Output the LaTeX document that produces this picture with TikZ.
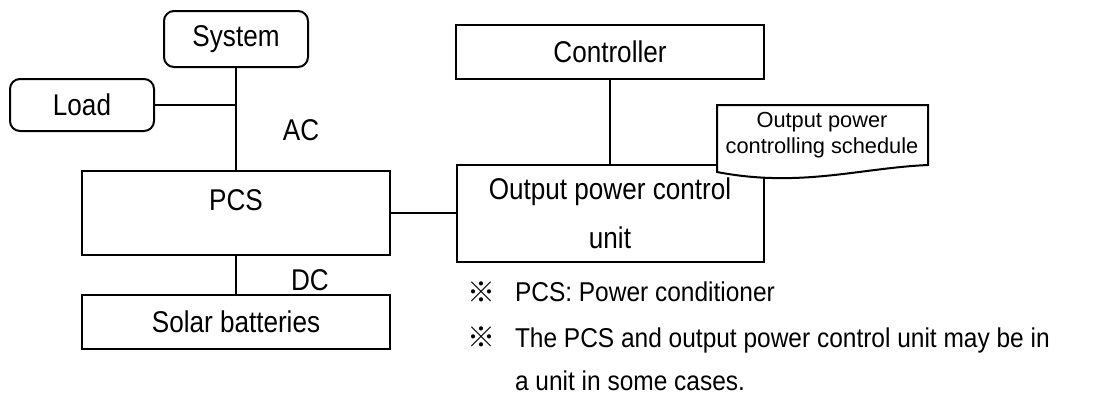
\documentclass[tikz,border=0pt]{standalone}
\usepackage{fontspec}
\setmainfont[FakeStretch=0.87]{Liberation Sans}
\newfontfamily\plainsans{Liberation Sans}
\newfontfamily\notesans[FakeStretch=0.9]{Liberation Sans}
\newfontfamily\cjk{Noto Sans CJK JP}
\tikzset{
  box/.style={draw, line width=1pt, inner sep=0pt, font=\fontsize{15}{18}\selectfont},
  rbox/.style={box, rounded corners=5pt},
  txt/.style={inner sep=0pt, font=\fontsize{15}{18}\selectfont},
  note/.style={inner sep=0pt, anchor=west, align=left, font=\notesans\fontsize{13.6}{21.5}\selectfont},
  refmark/.style={inner sep=0pt, font=\cjk\fontsize{14}{16}\selectfont},
}
\begin{document}
\begin{tikzpicture}[x=0.5pt, y=-0.5pt, line width=1pt]
        \useasboundingbox (0,0) rectangle (1094,398);
        \node[rbox, minimum width=72pt, minimum height=28pt] (sys) at (236,39) {System};
        \node[rbox, minimum width=72pt, minimum height=26pt] (load) at (82,105) {Load};
        \node[box, minimum width=154pt, minimum height=42pt, text height=10.7pt, text depth=13pt] (pcs) at (236,213) {PCS};
        \node[box, minimum width=154pt, minimum height=27pt] (sol) at (236,322) {Solar batteries};
        \node[box, minimum width=154pt, minimum height=27pt] (ctrl) at (610,52) {Controller};
        \node[box, minimum width=153.5pt, minimum height=48.5pt, align=center] (opc) at (610,213) {Output power control\\[6.5pt]unit};
        \node[txt] (ac) at (301,130) {AC};
        \node[txt] (dc) at (310,280) {DC};
        \draw (sys) -- (pcs);
        \draw (load) -- (load -| sys);
        \draw (pcs) -- (sol);
        \draw (pcs) -- (opc);
        \draw (ctrl) -- (opc);
        % schedule sheet
        \draw[fill=white] (717,105) -- (928,105) -- (928,165) .. controls (860,168) and (800,188) .. (717,172) -- cycle;
        \node[inner sep=0pt, align=center, font=\plainsans\fontsize{10.9}{13}\selectfont] (sched) at (822,135) {Output power\\controlling schedule};
        % notes
        \node[refmark] (m1) at (481,292) {※};
        \node[refmark] (m2) at (481,337) {※};
        \node[note] (n1) at (514,292) {PCS: Power conditioner};
        \node[note] (n2) at (514,359) {The PCS and output power control unit may be in\\a unit in some cases.};
\end{tikzpicture}
\end{document}
